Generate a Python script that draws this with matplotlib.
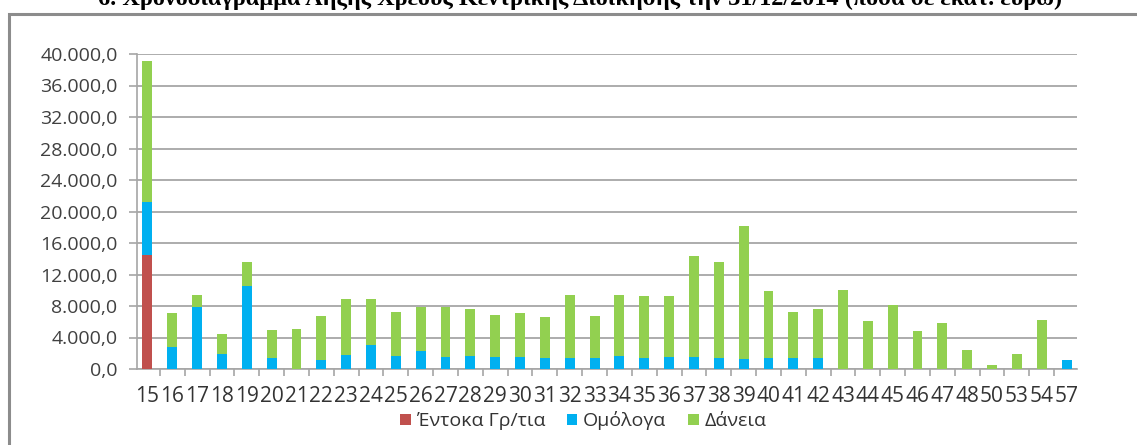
import matplotlib.pyplot as plt
import matplotlib.patches as mpatches
from matplotlib.ticker import FuncFormatter, FixedLocator
import numpy as np

plt.rcParams['font.family'] = ['Open Sans', 'DejaVu Sans']

# Έτη λήξης και ποσά (εκατ. ευρώ)
years = ['15', '16', '17', '18', '19', '20', '21', '22', '23', '24', '25', '26',
         '27', '28', '29', '30', '31', '32', '33', '34', '35', '36', '37', '38',
         '39', '40', '41', '42', '43', '44', '45', '46', '47', '48', '50', '53',
         '54', '57']
entoka = [14500] + [0] * 37
omologa = [6700, 2830, 7910, 1860, 10580, 1360, 0, 1180, 1740, 3050, 1690, 2290,
           1480, 1690, 1480, 1480, 1360, 1360, 1360, 1690, 1360, 1480, 1480, 1360,
           1230, 1360, 1360, 1360, 0, 0, 0, 0, 0, 0, 0, 0, 0, 1100]
daneia = [17950, 4240, 1530, 2540, 2970, 3550, 5040, 5590, 7190, 5800, 5590, 5620,
          6430, 5930, 5420, 5630, 5280, 8080, 5410, 7750, 7870, 7750, 12830, 12190,
          16890, 8580, 5880, 6260, 10070, 6140, 8080, 4780, 5800, 2410, 470, 1900,
          6260, 0]

c_red = '#C0504D'
c_blue = '#00B0F0'
c_green = '#92D050'

fig = plt.figure(figsize=(11.37, 4.45), dpi=100)

# πλαίσιο γραφήματος
frame = mpatches.Rectangle((9 / 1137, -0.1), 1.2, 1.1 - 14 / 445, transform=fig.transFigure,
                           fill=False, edgecolor='#8C8C8C', linewidth=2.2)
fig.patches.append(frame)

fig.text(0.51, 1.0 + 1 / 445, '6. Χρονοδιάγραμμα Λήξης Χρέους Κεντρικής Διοίκησης την 31/12/2014 (ποσά σε εκατ. ευρώ)',
         ha='center', va='center', fontsize=17.5, fontweight='bold',
         family=['Liberation Serif', 'DejaVu Serif'])

ax = fig.add_axes([137 / 1137, 1 - 369 / 445, (1077 - 137) / 1137, (369 - 54) / 445])

x = np.arange(len(years))
w = 0.4
entoka = np.array(entoka)
omologa = np.array(omologa)
daneia = np.array(daneia)
ax.bar(x, entoka, w, color=c_red, label='Έντοκα Γρ/τια', zorder=3)
ax.bar(x, omologa, w, bottom=entoka, color=c_blue, label='Ομόλογα', zorder=3)
ax.bar(x, daneia, w, bottom=entoka + omologa, color=c_green, label='Δάνεια', zorder=3)

ax.set_xlim(-0.42, len(years) - 0.58)
ax.set_ylim(0, 40000)
ax.set_yticks(np.arange(0, 40001, 4000))
ax.yaxis.set_major_formatter(FuncFormatter(lambda v, p: f'{v:,.1f}'.replace(',', 'X').replace('.', ',').replace('X', '.')))
ax.grid(axis='y', color='#A6A6A6', linewidth=1.3, zorder=0)

ax.set_xticks(x)
ax.set_xticklabels(years)
ax.xaxis.set_minor_locator(FixedLocator(np.arange(-0.5, len(years), 1.0)))
ax.tick_params(axis='x', which='major', length=0, pad=12, labelsize=15, labelcolor='#333333')
ax.tick_params(axis='x', which='minor', length=5, color='#A6A6A6', width=1.2)
ax.tick_params(axis='y', length=6, color='#A6A6A6', width=1.2, pad=8, labelsize=14, labelcolor='#404040')

for s in ['top', 'right']:
    ax.spines[s].set_visible(False)
for s in ['left', 'bottom']:
    ax.spines[s].set_color('#A6A6A6')
    ax.spines[s].set_linewidth(1.2)

fig.legend(loc='center', bbox_to_anchor=(0.513, 1 - 421 / 445), ncol=3, frameon=False,
           fontsize=14, handlelength=0.55, handleheight=0.55, handletextpad=0.3,
           columnspacing=1.1, labelcolor='#333333')

fig.savefig('out.png', dpi=100, facecolor='white')
